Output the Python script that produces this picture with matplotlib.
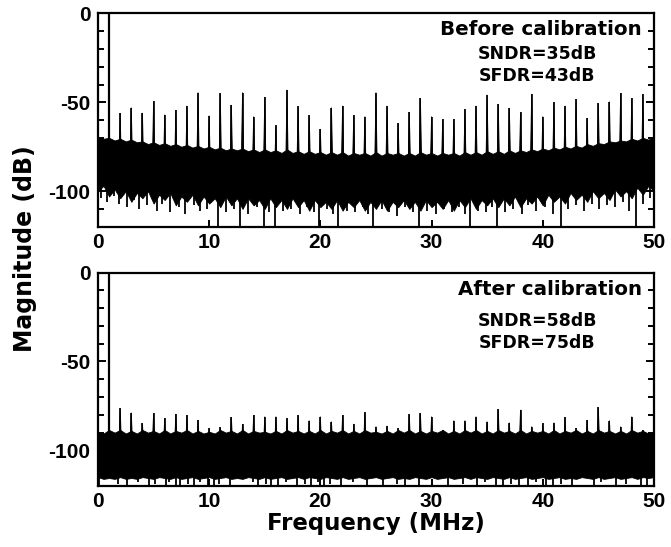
import numpy as np
import matplotlib.pyplot as plt

plt.rcParams['font.family'] = ['Liberation Sans', 'DejaVu Sans']
plt.rcParams['font.weight'] = 'bold'
plt.rcParams['axes.unicode_minus'] = False

# ---- data ----
fund_freq = 1.0           # MHz, fundamental at 0 dB
fund_db = 0.0
spur_freq = np.arange(2, 50)   # spurs on every MHz from 2 to 49

top_spur_db = [-56, -53, -56, -49.5, -57, -54.5, -52, -44.5, -57.5, -45,
               -51.5, -44.5, -58, -47, -63, -43,
               -52.3, -57.4, -65, -53, -52, -57.4, -58, -44.5, -52, -61.7,
               -55.5, -47.7, -58, -59.5, -59.5, -53.8, -52, -45.8, -51, -53.3,
               -55.7, -45.4, -58, -50.1, -52, -48.2, -58.9, -50.5, -49.6,
               -44.9, -47.7, -45.4]

bot_spur_db = [-76.3, -78.8, -84.7, -79.1, -81.9, -79.5, -80.1, -82.9, -87.5,
               -87, -81.4, -85.3, -80.1, -81, -81, -82, -80.1, -83.2, -81,
               -83.8, -80.1, -85.1, -78.6, -86.6, -86.2, -87.5, -79.7, -79.1,
               -81, -88.5, -83.2, -83.2, -81, -83.8, -76.9, -84.4, -77.2,
               -86.6, -84.7, -84.4, -81.4, -87.5, -82.9, -75.7, -83.2, -86.6,
               -81, -88.5]

# noise floor edges, every 0.5 MHz
env_freq = np.arange(0, 50.01, 0.5)
top_upper_db = [
    -69.5, -70.5, -70, -71.5, -70.5, -72, -71, -72.5, -72, -73.5,
    -72.5, -74, -73, -74.5, -73.5, -75, -74, -75.5, -74.5, -76,
    -75, -76.5, -75.5, -77, -76, -77, -76, -77.5, -76.5, -78,
    -76.5, -78, -77, -78.5, -76.5, -78.5, -77.5, -79, -77.5, -79,
    -78, -79.5, -78, -79.5, -78, -80, -78.5, -79.5, -78.5, -80,
    -78, -80, -78.5, -79.5, -78.5, -80, -78.5, -80, -78, -79.5,
    -78.5, -80, -78.5, -79.5, -78.5, -80, -78, -79.5, -78, -79.5,
    -77.5, -79, -77.5, -79, -77, -78.5, -77, -78, -76.5, -77.5,
    -76, -77, -75.5, -76.5, -75, -76, -74.5, -75.5, -73.5, -74.5,
    -73, -73.5, -72, -72.5, -71.5, -72, -70.5, -71.5, -70, -71,
    -69.5]
top_lower_db = [
    -100, -97, -103, -99, -104, -100, -106, -101, -104, -100,
    -107, -102, -105, -101, -108, -103, -106, -102, -108, -103,
    -107, -104, -109, -103, -108, -104, -110, -104, -108, -105,
    -110, -104, -109, -105, -110, -104, -109, -105, -111, -105,
    -109, -106, -110, -105, -111, -106, -109, -105, -111, -106,
    -110, -105, -111, -106, -109, -105, -110, -106, -111, -105,
    -109, -106, -110, -105, -111, -105, -109, -104, -110, -105,
    -108, -104, -109, -104, -108, -103, -109, -104, -107, -103,
    -108, -102, -106, -103, -107, -101, -105, -102, -106, -100,
    -104, -101, -105, -99, -103, -100, -104, -98, -102, -97,
    -100]
bot_upper_db = [
    -89.5, -90.5, -88.5, -90, -88.5, -90.5, -89, -90.5, -88.5, -90,
    -89, -90.5, -88.5, -90.5, -89, -90, -88.5, -90.5, -89, -90.5,
    -89.5, -90.5, -88.5, -90, -89, -90.5, -88.5, -90.5, -89, -90,
    -89.5, -90.5, -89, -90.5, -88.5, -90, -89, -90.5, -89, -90.5,
    -88.5, -90.5, -89, -90, -88.5, -90.5, -89, -90.5, -88.5, -90,
    -89.5, -90.5, -89, -90.5, -88.5, -90, -88.5, -90.5, -89, -90.5,
    -89, -90, -88.5, -90.5, -89, -90.5, -88.5, -90, -88.5, -90.5,
    -89, -90.5, -88.5, -90, -89, -90.5, -88.5, -90.5, -89, -90,
    -89, -90.5, -88.5, -90.5, -89, -90, -88.5, -90.5, -89, -90.5,
    -88.5, -90, -89, -90.5, -89, -90.5, -88.5, -90, -89, -90.5,
    -89.5]
bot_lower_db = [
    -115, -116, -115.5, -116, -115, -116, -115.5, -116, -115, -115.5,
    -116, -115, -115.5, -116, -115, -116, -115.5, -115, -116, -115.5,
    -115, -116, -115.5, -115, -116, -115.5, -116, -115, -115.5, -116,
    -115, -116, -115.5, -115, -116, -115.5, -115, -116, -115, -115.5,
    -116, -115, -115.5, -116, -115, -116, -115.5, -115, -116, -115.5,
    -115, -116, -115.5, -115, -116, -115.5, -116, -115, -115.5, -116,
    -115, -116, -115.5, -115, -116, -115.5, -115, -116, -115, -115.5,
    -116, -115, -115.5, -116, -115, -116, -115.5, -115, -116, -115.5,
    -115, -116, -115.5, -115, -116, -115.5, -116, -115, -115.5, -116,
    -115, -116, -115.5, -115, -116, -115.5, -115, -116, -115, -115.5,
    -115]

# deep dips below the band
top_dip_freq = [0.3, 0.8, 1.4, 1.9, 2.6, 3.2, 3.7, 4.4, 5.3, 5.8, 6.5, 7.3,
                7.8, 8.6, 9.2, 9.8, 10.8, 11.5, 12.2, 12.8, 13.5, 14.3, 14.9,
                15.4, 15.9, 16.6, 17.4, 18.2, 18.8, 19.4, 19.9, 20.6, 21.1,
                21.6, 22.4, 23.1, 23.8, 24.3, 24.7, 25.5, 26.2, 26.9, 27.6,
                28.3, 28.9, 29.6, 30.4, 31.1, 31.8, 32.5, 33.0, 33.5, 34.2,
                34.9, 35.4, 35.9, 36.6, 37.3, 38.1, 38.7, 39.4, 40.2, 40.9,
                41.6, 42.3, 43.0, 43.7, 44.4, 45.1, 45.8, 46.5, 47.2, 47.8,
                48.4, 49.0, 49.6]
top_dip_db = [-104, -106, -103, -107, -109, -105, -110, -108, -111, -107,
              -112, -109, -113, -108, -111, -110, -121, -112, -110, -121,
              -113, -109, -121, -112, -121, -111, -110, -113, -109, -112,
              -121, -110, -113, -121, -111, -112, -109, -113, -121, -110,
              -112, -114, -109, -112, -121, -111, -113, -110, -112, -109,
              -113, -121, -111, -112, -109, -121, -112, -110, -113, -108,
              -111, -109, -113, -121, -110, -108, -111, -107, -110, -108,
              -109, -106, -111, -121, -107, -104]

bot_dip_freq = [0.1, 1.8, 2.6, 3.6, 4.6, 5.1, 6.1, 6.4, 7.0, 7.4, 8.1, 8.6,
                9.2, 9.9, 10.4, 10.9, 11.9, 13.9, 14.4, 15.1, 15.6, 16.2,
                16.9, 17.9, 18.6, 19.2, 19.8, 20.3, 20.9, 21.9, 22.9, 24.2,
                25.6, 26.9, 27.6, 28.9, 31.5, 32.8, 34.1, 34.8, 35.8, 36.4,
                37.1, 37.9, 38.7, 39.4, 40.3, 40.9, 41.6, 42.6, 44.6, 45.2,
                46.6, 47.5, 48.8, 49.4]
bot_dip_db = [-121, -119, -121, -118, -121, -119, -121, -118, -121, -121,
              -119, -121, -118, -121, -121, -119, -121, -118, -121, -119,
              -121, -121, -118, -121, -119, -121, -118, -121, -119, -121,
              -118, -121, -121, -119, -121, -121, -121, -119, -121, -118,
              -121, -121, -119, -121, -121, -118, -121, -121, -119, -121,
              -121, -118, -121, -119, -121, -121]

panels = [
    dict(upper=top_upper_db, lower=top_lower_db, spurs=top_spur_db,
         dip_f=top_dip_freq, dip_db=top_dip_db, base=-92,
         title='Before calibration', sndr='SNDR=35dB', sfdr='SFDR=43dB',
         ty=0.927, sy=0.81, fy=0.708),
    dict(upper=bot_upper_db, lower=bot_lower_db, spurs=bot_spur_db,
         dip_f=bot_dip_freq, dip_db=bot_dip_db, base=-100,
         title='After calibration', sndr='SNDR=58dB', sfdr='SFDR=75dB',
         ty=0.922, sy=0.772, fy=0.668),
]

ann_font = 'DejaVu Sans'

fig = plt.figure(figsize=(6.71, 5.47), dpi=100)
rects = [[0.146, 0.5856, 0.8286, 0.3898], [0.146, 0.1115, 0.8286, 0.3903]]

for rect, p in zip(rects, panels):
    ax = fig.add_axes(rect)
    ax.fill_between(env_freq, p['upper'], p['lower'], color='k', lw=0.6,
                    edgecolor='k')
    ax.vlines(p['dip_f'], p['dip_db'], p['base'] - 5, color='k', lw=1.3)
    for f, db in zip(spur_freq, p['spurs']):
        ax.fill([f - 0.13, f, f + 0.13], [p['base'], db, p['base']],
                color='k', lw=0.6)
    ax.vlines(spur_freq, p['base'], p['spurs'], color='k', lw=1.2)
    ax.vlines([fund_freq], p['base'], [fund_db], color='k', lw=1.6)

    ax.set_xlim(0, 50)
    ax.set_ylim(-120, 0)
    ax.set_xticks([0, 10, 20, 30, 40, 50])
    ax.set_yticks([0, -50, -100])
    ax.set_yticks(np.arange(-120, 1, 10), minor=True)
    ax.tick_params(axis='y', which='both', direction='in', left=True,
                   right=True, labelsize=15, pad=5.5)
    ax.tick_params(axis='y', which='major', length=6, width=1.4)
    ax.tick_params(axis='y', which='minor', length=4, width=1.4)
    ax.tick_params(axis='x', direction='in', length=5, width=1.4,
                   labelsize=15, pad=4.5)
    for s in ax.spines.values():
        s.set_linewidth(1.6)
    ax.text(0.978, p['ty'], p['title'], transform=ax.transAxes,
            ha='right', va='center', fontsize=14.3, fontweight='bold',
            family=ann_font)
    ax.text(0.79, p['sy'], p['sndr'], transform=ax.transAxes,
            ha='center', va='center', fontsize=12.5, fontweight='bold',
            family=ann_font)
    ax.text(0.79, p['fy'], p['sfdr'], transform=ax.transAxes,
            ha='center', va='center', fontsize=12.5, fontweight='bold',
            family=ann_font)

fig.text(0.038, 0.545, 'Magnitude (dB)', rotation=90, ha='center',
         va='center', fontsize=17, fontweight='bold', family=ann_font)
fig.text(0.56, 0.043, 'Frequency (MHz)', ha='center', va='center',
         fontsize=16.5, fontweight='bold', family=ann_font)

fig.savefig('out.png', dpi=100)
